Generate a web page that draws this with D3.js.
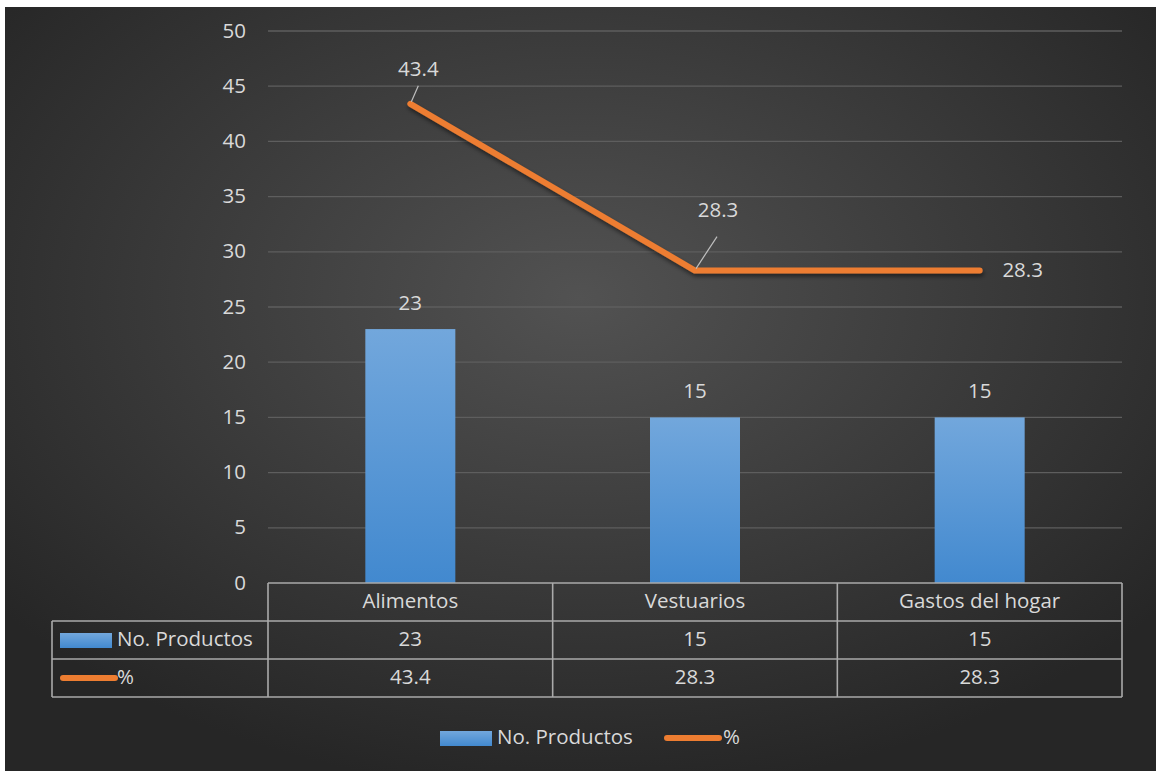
<!DOCTYPE html>
<meta charset="UTF-8">
<html>
<head>
<script src="https://d3js.org/d3.v7.min.js"></script>
<style>
  body { margin: 0; background: #fff; }
  svg text { font-family: "Open Sans", "Noto Sans", sans-serif; fill: #d9d9d9; }
</style>
</head>
<body>
<svg class="Chart" width="1156" height="771"></svg>
<script>
var Categories = ["Alimentos", "Vestuarios", "Gastos del hogar"];
var Productos = [23, 15, 15];
var Porcentaje = [43.4, 28.3, 28.3];
var YTicks = [0, 5, 10, 15, 20, 25, 30, 35, 40, 45, 50];
var SeriesNames = ["No. Productos", "%"];

var Svg = d3.select(".Chart");
var Left = 268, Right = 1122, Top = 31, Bottom = 583;
var RowH = 38;
var FontSize = "20.5px";

var Defs = Svg.append("defs");
var Bg = Defs.append("radialGradient").attr("id", "bg")
  .attr("cx", "50%").attr("cy", "38%").attr("r", "65%");
Bg.append("stop").attr("offset", "0%").attr("stop-color", "#525252");
Bg.append("stop").attr("offset", "100%").attr("stop-color", "#262626");
var BarG = Defs.append("linearGradient").attr("id", "bar")
  .attr("x1", 0).attr("y1", 0).attr("x2", 0).attr("y2", 1);
BarG.append("stop").attr("offset", "0%").attr("stop-color", "#72a7dc");
BarG.append("stop").attr("offset", "100%").attr("stop-color", "#4289cf");
var Shadow = Defs.append("filter").attr("id", "shadow")
  .attr("x", "-10%").attr("y", "-10%").attr("width", "120%").attr("height", "140%");
Shadow.append("feDropShadow").attr("dx", 1).attr("dy", 3).attr("stdDeviation", 2)
  .attr("flood-color", "#000").attr("flood-opacity", 0.5);

Svg.append("rect").attr("x", 5).attr("y", 7).attr("width", 1151).attr("height", 764)
  .attr("fill", "url(#bg)");

var XScale = d3.scaleBand().domain(Categories).range([Left, Right]).paddingInner(0).paddingOuter(0);
var YScale = d3.scaleLinear().domain([0, 50]).range([Bottom, Top]);

// gridlines
Svg.append("g").selectAll("line").data(YTicks.filter(function(d){ return d > 0; })).enter()
  .append("line")
  .attr("x1", Left).attr("x2", Right)
  .attr("y1", function(d){ return YScale(d); })
  .attr("y2", function(d){ return YScale(d); })
  .attr("stroke", "#5e5e5e").attr("stroke-width", 1.3);

// y axis
var YAxis = d3.axisLeft(YScale).tickValues(YTicks).tickSize(0).tickPadding(0);
var YG = Svg.append("g").attr("transform", "translate(" + (Left - 22) + ",0)").call(YAxis);
YG.select(".domain").remove();
YG.selectAll("text").style("font-size", FontSize).attr("fill", "#d9d9d9").attr("dy", "0.3em");

// bars
var BarW = 90;
Svg.append("g").selectAll("rect").data(Productos).enter()
  .append("rect")
  .attr("x", function(d, i){ return XScale(Categories[i]) + XScale.bandwidth() / 2 - BarW / 2; })
  .attr("y", function(d){ return YScale(d); })
  .attr("width", BarW)
  .attr("height", function(d){ return Bottom - YScale(d); })
  .attr("fill", "url(#bar)");

Svg.append("g").selectAll("text").data(Productos).enter()
  .append("text")
  .attr("x", function(d, i){ return XScale(Categories[i]) + XScale.bandwidth() / 2; })
  .attr("y", function(d){ return YScale(d) - 25; })
  .attr("text-anchor", "middle").attr("dominant-baseline", "middle")
  .style("font-size", FontSize)
  .text(function(d){ return d; });

// line
var Cx = function(i){ return XScale(Categories[i]) + XScale.bandwidth() / 2; };
var Line = d3.line().x(function(d, i){ return Cx(i); }).y(function(d){ return YScale(d); });
Svg.append("path").datum(Porcentaje)
  .attr("d", Line)
  .attr("fill", "none").attr("stroke", "#ed7d31").attr("stroke-width", 6)
  .attr("stroke-linecap", "round").attr("stroke-linejoin", "round")
  .attr("filter", "url(#shadow)");

// line labels with leader lines
var LabelOffsets = [{dx: 8, dy: -33, lx: 8, ly: -18}, {dx: 23, dy: -59, lx: 22, ly: -34}, {dx: 43, dy: 1, lx: null, ly: null}];
Porcentaje.forEach(function(v, i){
  var px = Cx(i), py = YScale(v), o = LabelOffsets[i];
  if (o.lx !== null) {
    Svg.append("line").attr("x1", px + 1).attr("y1", py - 2)
      .attr("x2", px + o.lx).attr("y2", py + o.ly)
      .attr("stroke", "#bfbfbf").attr("stroke-width", 1.2);
  }
  Svg.append("text").attr("x", px + o.dx).attr("y", py + o.dy)
    .attr("text-anchor", "middle").attr("dominant-baseline", "middle")
    .style("font-size", FontSize).text(v.toFixed(1));
});

// data table
var TableLeft = 52;
var T = Svg.append("g").attr("stroke", "#aaaaaa").attr("stroke-width", 1.6).attr("fill", "none");
T.append("line").attr("x1", Left).attr("x2", Right).attr("y1", Bottom).attr("y2", Bottom);
[1, 2, 3].forEach(function(r){
  T.append("line").attr("x1", TableLeft).attr("x2", Right)
    .attr("y1", Bottom + r * RowH).attr("y2", Bottom + r * RowH);
});
T.append("line").attr("x1", TableLeft).attr("x2", TableLeft).attr("y1", Bottom + RowH).attr("y2", Bottom + 3 * RowH);
Categories.forEach(function(c, i){
  var x = XScale(c);
  T.append("line").attr("x1", x).attr("x2", x).attr("y1", Bottom).attr("y2", Bottom + 3 * RowH);
});
T.append("line").attr("x1", Right).attr("x2", Right).attr("y1", Bottom).attr("y2", Bottom + 3 * RowH);

var Rows = [Categories, Productos, Porcentaje.map(function(v){ return v.toFixed(1); })];
Rows.forEach(function(row, r){
  row.forEach(function(v, i){
    Svg.append("text")
      .attr("x", Cx(i)).attr("y", Bottom + r * RowH + RowH / 2 + 1)
      .attr("text-anchor", "middle").attr("dominant-baseline", "middle")
      .style("font-size", FontSize).text(v);
  });
});

// table row keys
function DrawKey(x, y, type) {
  if (type === 0) {
    Svg.append("rect").attr("x", x).attr("y", y - 7).attr("width", 52).attr("height", 15).attr("fill", "url(#bar)");
  } else {
    Svg.append("line").attr("x1", x + 3).attr("x2", x + 55).attr("y1", y).attr("y2", y)
      .attr("stroke", "#ed7d31").attr("stroke-width", 6).attr("stroke-linecap", "round");
  }
}
SeriesNames.forEach(function(n, k){
  var y = Bottom + (k + 1) * RowH + RowH / 2;
  DrawKey(60, y, k);
  Svg.append("text").attr("x", 117).attr("y", y + 1)
    .attr("dominant-baseline", "middle").style("font-size", FontSize).text(n);
});

// legend
var LegY = 738;
DrawKey(440, LegY, 0);
Svg.append("text").attr("x", 497).attr("y", LegY + 1).attr("dominant-baseline", "middle")
  .style("font-size", FontSize).text(SeriesNames[0]);
DrawKey(664, LegY, 1);
Svg.append("text").attr("x", 723).attr("y", LegY + 1).attr("dominant-baseline", "middle")
  .style("font-size", FontSize).text(SeriesNames[1]);
</script>
</body>
</html>
